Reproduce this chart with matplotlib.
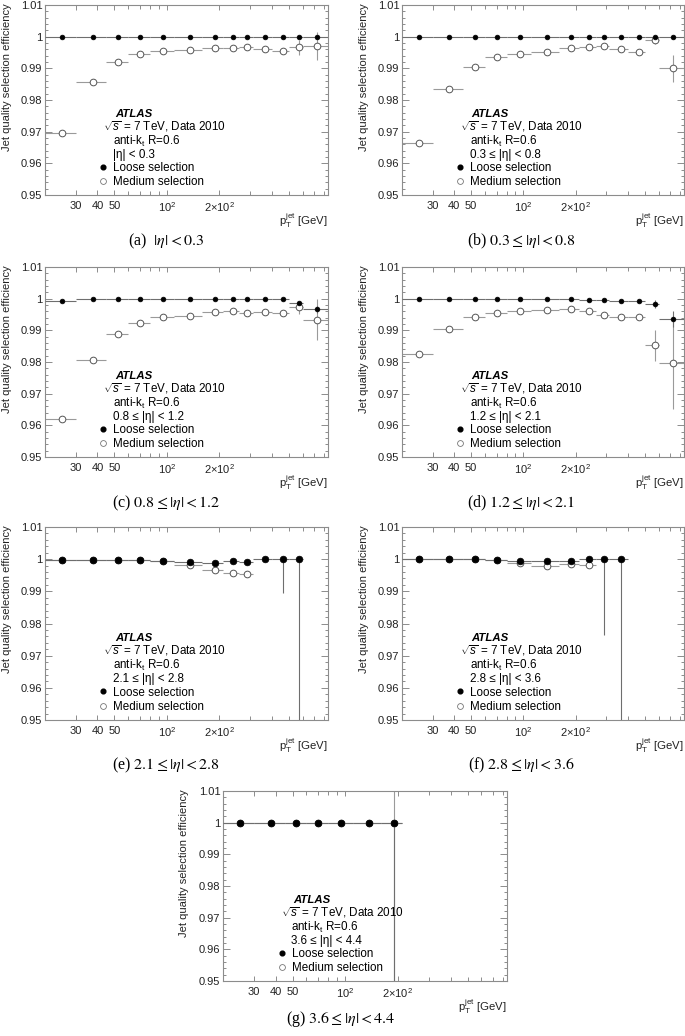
import matplotlib.pyplot as plt
from matplotlib.ticker import FixedLocator, NullFormatter, MultipleLocator, FuncFormatter
from matplotlib.lines import Line2D

plt.rcParams['font.family'] = ['Liberation Sans', 'DejaVu Sans']
plt.rcParams['mathtext.fontset'] = 'custom'
plt.rcParams['mathtext.rm'] = 'Liberation Sans'
plt.rcParams['mathtext.it'] = 'Liberation Sans:italic'
plt.rcParams['mathtext.bf'] = 'Liberation Sans:bold'

# bin di pT (GeV)
pt_lo = [20, 30, 45, 60, 80, 110, 160, 210, 260, 310, 400, 500, 600]
pt_hi = [30, 45, 60, 80, 110, 160, 210, 260, 310, 400, 500, 600, 850]
pt_x = [25, 37.5, 52.5, 70, 95, 136, 189, 238, 290, 365, 463, 570, 728]

# (a) |eta| < 0.3
loose_a = [0.9999, 1.0, 1.0, 1.0, 1.0, 1.0, 1.0, 1.0, 1.0, 1.0, 1.0, 1.0, 1.0]
loose_a_err = [0, 0, 0, 0, 0, 0, 0, 0, 0, 0, 0, 0.0002, 0.0003]
medium_a = [0.9697, 0.9857, 0.9919, 0.9946, 0.9955, 0.9958, 0.9965, 0.9965, 0.9968, 0.9961, 0.9955, 0.9967, 0.9971]
medium_a_err = [0.0003, 0.0002, 0.0002, 0.0002, 0.0002, 0.0002, 0.0002, 0.0003, 0.0003, 0.0004, 0.0006, 0.0024, 0.0045]

# (b) 0.3 <= |eta| < 0.8
loose_b = [0.9998, 1.0, 1.0, 1.0, 1.0, 1.0, 1.0, 1.0, 1.0, 1.0, 1.0, 1.0, 1.0]
loose_b_err = [0, 0, 0, 0, 0, 0, 0, 0, 0, 0, 0, 0.0002, 0.0003]
medium_b = [0.9663, 0.9834, 0.9904, 0.9936, 0.9945, 0.9951, 0.9965, 0.9966, 0.9969, 0.9961, 0.9951, 0.9988, 0.9900]
medium_b_err = [0.0003, 0.0002, 0.0002, 0.0002, 0.0002, 0.0002, 0.0002, 0.0003, 0.0003, 0.0004, 0.0005, 0.0010, 0.0042]

# (c) 0.8 <= |eta| < 1.2
loose_c = [0.9992, 0.9999, 1.0, 1.0, 1.0, 1.0, 1.0, 1.0, 1.0, 1.0, 1.0, 0.9986, 0.9966]
loose_c_err = [0, 0, 0, 0, 0, 0, 0, 0, 0, 0, 0, 0.0005, 0.0010]
medium_c = [0.9621, 0.9805, 0.9888, 0.9924, 0.9942, 0.9945, 0.9957, 0.9960, 0.9956, 0.9957, 0.9954, 0.9973, 0.9934]
medium_c_err = [0.0003, 0.0002, 0.0002, 0.0002, 0.0002, 0.0002, 0.0003, 0.0003, 0.0004, 0.0004, 0.0005, 0.0020, 0.0066]

# (d) 1.2 <= |eta| < 2.1
loose_d = [1.0, 1.0, 1.0, 1.0, 1.0, 1.0, 1.0, 0.9997, 0.9995, 0.9994, 0.9992, 0.9984, 0.9935]
loose_d_err = [0, 0, 0, 0, 0, 0, 0, 0, 0, 0, 0.0002, 0.0012, 0.0025]
medium_d = [0.9824, 0.9905, 0.9942, 0.9955, 0.9961, 0.9963, 0.9966, 0.9961, 0.9949, 0.9942, 0.9941, 0.9853, 0.9797]
medium_d_err = [0.0003, 0.0002, 0.0002, 0.0002, 0.0002, 0.0002, 0.0003, 0.0003, 0.0004, 0.0004, 0.0006, 0.0049, 0.0145]

# (e) 2.1 <= |eta| < 2.8
loose_e = [0.9998, 0.9998, 0.9998, 0.9998, 0.9995, 0.9992, 0.9989, 0.9993, 0.9991, 1.0, 1.0, 1.0]
loose_e_err = [0, 0, 0, 0, 0, 0, 0, 0, 0, 0, 0.0105, 0.06]
medium_e = [0.9998, 0.9998, 0.9998, 0.9997, 0.9994, 0.9982, 0.9966, 0.9958, 0.9955]
medium_e_err = [0, 0, 0, 0, 0.0002, 0.0003, 0.0003, 0.0004, 0.0005]

# (f) 2.8 <= |eta| < 3.6
loose_f = [1.0, 1.0, 1.0, 0.9998, 0.9995, 0.9995, 0.9995, 1.0, 1.0, 1.0]
loose_f_err = [0, 0, 0, 0, 0, 0, 0, 0, 0.0237, 0.06]
medium_f = [1.0, 1.0, 1.0, 0.9998, 0.9988, 0.9979, 0.9984, 0.9981]
medium_f_err = [0, 0, 0, 0, 0.0003, 0.0004, 0.0004, 0.0008]

# (g) 3.6 <= |eta| < 4.4
loose_g = [1.0, 1.0, 1.0, 1.0, 1.0, 1.0, 1.0]
loose_g_err = [0, 0, 0, 0, 0, 0, 0.06]
medium_g = [1.0, 1.0, 1.0, 1.0, 1.0, 1.0, 1.0]
medium_g_err = [0, 0, 0, 0, 0, 0, 0.06]

W, H = 685, 1036
fig = plt.figure(figsize=(W / 100, H / 100), dpi=100)


def box(l, t, r, b):
    return [l / W, 1 - b / H, (r - l) / W, (b - t) / H]


# (box in pixel, etichetta eta, didascalia, centro didascalia, dati)
panels = [
    (box(45, 5, 328, 195), '|η| < 0.3', r'(a)  $|\eta| < 0.3$', (166, 241),
     loose_a, loose_a_err, medium_a, medium_a_err, False, 3.4),
    (box(402, 5, 684, 195), '0.3 ≤ |η| < 0.8', r'(b) $0.3 \leq |\eta| < 0.8$', (521, 241),
     loose_b, loose_b_err, medium_b, medium_b_err, False, 3.4),
    (box(45, 267, 328, 457), '0.8 ≤ |η| < 1.2', r'(c) $0.8 \leq |\eta| < 1.2$', (166, 503),
     loose_c, loose_c_err, medium_c, medium_c_err, False, 3.4),
    (box(402, 267, 684, 457), '1.2 ≤ |η| < 2.1', r'(d) $1.2 \leq |\eta| < 2.1$', (521, 503),
     loose_d, loose_d_err, medium_d, medium_d_err, False, 3.4),
    (box(45, 527, 328, 720), '2.1 ≤ |η| < 2.8', r'(e) $2.1 \leq |\eta| < 2.8$', (166, 765),
     loose_e, loose_e_err, medium_e, medium_e_err, True, 4.8),
    (box(402, 527, 684, 720), '2.8 ≤ |η| < 3.6', r'(f) $2.8 \leq |\eta| < 3.6$', (521, 765),
     loose_f, loose_f_err, medium_f, medium_f_err, True, 4.8),
    (box(223, 791, 507, 981), '3.6 ≤ |η| < 4.4', r'(g) $3.6 \leq |\eta| < 4.4$', (341, 1019),
     loose_g, loose_g_err, medium_g, medium_g_err, True, 4.8),
]

frame = '#8c8c8c'
txt_size = 8.4

for rect, eta_txt, caption, cpos, lo_y, lo_e, me_y, me_e, lower_only, lsize in panels:
    ax = fig.add_axes(rect)
    ax.set_xscale('log')

    n_m = len(me_y)
    xm = pt_x[:n_m]
    xerr_m = [[x - a for x, a in zip(xm, pt_lo[:n_m])], [b - x for x, b in zip(xm, pt_hi[:n_m])]]
    ax.errorbar(xm, me_y, xerr=xerr_m, yerr=me_e, fmt='o', ms=4.8, mfc='white',
                mec='#555555', mew=0.7, ecolor='#9a9a9a', elinewidth=0.8, capsize=0, zorder=2)

    n_l = len(lo_y)
    xl = pt_x[:n_l]
    xerr_l = [[x - a for x, a in zip(xl, pt_lo[:n_l])], [b - x for x, b in zip(xl, pt_hi[:n_l])]]
    if lower_only:
        yerr_l = [lo_e, [0] * n_l]
    else:
        yerr_l = lo_e
    ax.errorbar(xl, lo_y, xerr=xerr_l, yerr=yerr_l, fmt='o', ms=lsize, mfc='black',
                mec='black', mew=0.5, ecolor='#6e6e6e', elinewidth=0.8, capsize=0, zorder=3)

    ax.set_xlim(20, 840)
    ax.set_ylim(0.95, 1.01)

    ax.yaxis.set_major_locator(FixedLocator([0.95, 0.96, 0.97, 0.98, 0.99, 1.0, 1.01]))
    ax.yaxis.set_major_formatter(FuncFormatter(lambda v, p: '1' if abs(v - 1) < 1e-9 else f'{v:.2f}'))
    ax.yaxis.set_minor_locator(MultipleLocator(0.002))
    ax.xaxis.set_major_locator(FixedLocator([30, 40, 50, 100, 200]))
    ax.xaxis.set_major_formatter(FuncFormatter(
        lambda v, p: {30: '30', 40: '40', 50: '50', 100: r'$10^{2}$', 200: r'$2{\times}10^{2}$'}.get(int(round(v)), '')))
    ax.xaxis.set_minor_locator(FixedLocator([20, 60, 70, 80, 90, 300, 400, 500, 600, 700, 800]))
    ax.xaxis.set_minor_formatter(NullFormatter())

    ax.tick_params(which='both', direction='in', top=True, right=True, color=frame,
                   labelsize=8, labelcolor='#222222', width=0.7)
    ax.tick_params(axis='y', which='major', length=5, pad=2)
    ax.tick_params(axis='y', which='minor', length=2.5)
    ax.tick_params(axis='x', which='major', length=3.5, pad=4)
    ax.tick_params(axis='x', which='minor', length=3)
    for s in ax.spines.values():
        s.set_color(frame)
        s.set_linewidth(0.8)

    ax.set_ylabel('Jet quality selection efficiency', fontsize=8, loc='top', color='#222222')
    ax.yaxis.set_label_coords(-0.118, 1.01)
    ax.set_xlabel(r'$\mathrm{p}_{\mathrm{T}}^{\mathrm{jet}}$ [GeV]', fontsize=8.2, loc='right', color='#222222')
    ax.xaxis.set_label_coords(1.0, -0.09)

    # testo ATLAS
    ax.text(0.247, 0.425, 'ATLAS', transform=ax.transAxes, fontsize=8.2,
            fontweight='bold', fontstyle='italic', va='center')
    ax.text(0.205, 0.358, r'$\sqrt{s}$ = 7 TeV, Data 2010', transform=ax.transAxes,
            fontsize=txt_size, va='center')
    ax.text(0.24, 0.282, r'anti-k$_{\mathrm{t}}$ R=0.6', transform=ax.transAxes,
            fontsize=txt_size, va='center')
    ax.text(0.24, 0.212, eta_txt, transform=ax.transAxes, fontsize=txt_size, va='center')

    h_loose = Line2D([], [], ls='none', marker='o', ms=3.4, mfc='black', mec='black')
    h_med = Line2D([], [], ls='none', marker='o', ms=4.2, mfc='white', mec='#777777', mew=0.6)
    ax.legend([h_loose, h_med], ['Loose selection', 'Medium selection'], loc='center left',
              bbox_to_anchor=(0.19, 0.105), frameon=False, fontsize=txt_size, handlelength=0.8,
              handletextpad=0.45, labelspacing=0.2, borderpad=0, borderaxespad=0)

    fig.text(cpos[0] / W, 1 - cpos[1] / H, caption, ha='center', va='center', fontsize=11.5,
             family='Liberation Serif', math_fontfamily='stix')

fig.savefig('out.png', dpi=100)
